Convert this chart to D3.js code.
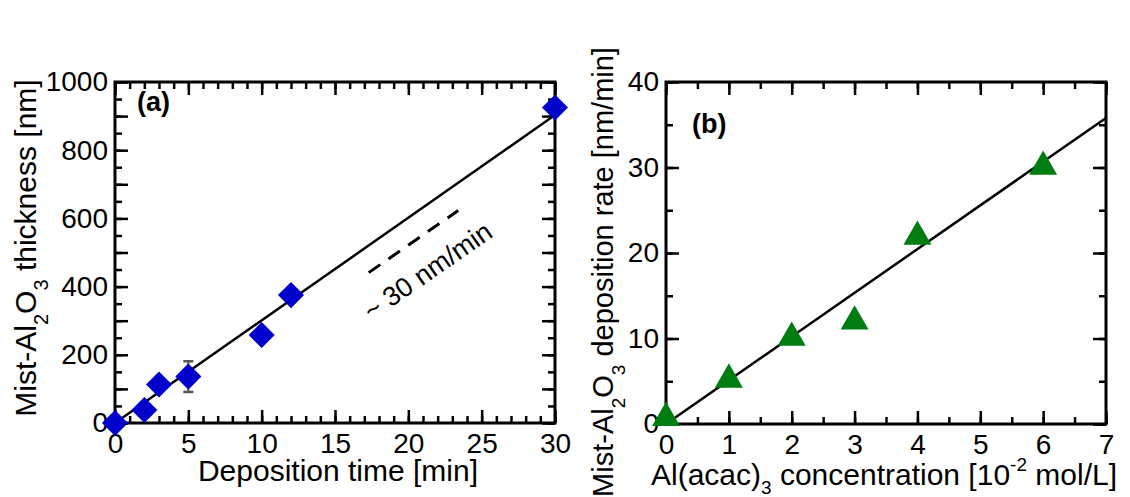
<!DOCTYPE html>
<html>
<head>
<meta charset="utf-8">
<script src="https://cdn.jsdelivr.net/npm/d3@7"></script>
<style>
  html, body { margin: 0; padding: 0; background: #fff; }
  svg { display: block; }
  text { font-family: "Liberation Sans", Arial, Helvetica, sans-serif; fill: #000; }
</style>
</head>
<body>
<svg id="chart" width="1130" height="497"></svg>
<script>
// ---------- Data: panel (a) ----------
const timeA = [0, 2, 3, 5, 10, 12, 30];                 // min
const thickA = [0, 38, 113, 136, 258, 375, 925];         // nm
const errA = [0, 0, 0, 45, 0, 0, 0];                     // nm (error bar half-length)
const fitAX = [0, 30];
const fitAY = [0, 903];
const guideAX = [17.3, 23.4];                            // dashed ~30 nm/min guide
const guideAY = [441, 623];
const guideLabelA = "~ 30 nm/min";
const guideLabelPosA = [17.5, 299];
const xTicksA = [0, 5, 10, 15, 20, 25, 30];
const yTicksA = [0, 200, 400, 600, 800, 1000];

// ---------- Data: panel (b) ----------
const concB = [0, 1, 2, 3, 4, 6];                        // 10^-2 mol/L
const rateB = [0.7, 5.2, 10.1, 12.0, 21.9, 30.1];        // nm/min
const fitBX = [0, 7];
const fitBY = [0, 35.8];
const xTicksB = [0, 1, 2, 3, 4, 5, 6, 7];
const yTicksB = [0, 10, 20, 30, 40];

const svg = d3.select("#chart");

function panel(opt) {
  const g = svg.append("g");
  const x = d3.scaleLinear().domain(opt.xDomain).range([opt.left, opt.right]);
  const y = d3.scaleLinear().domain(opt.yDomain).range([opt.bottom, opt.top]);
  const tickFont = "28px";

  const minorX = d3.range(opt.xDomain[0], opt.xDomain[1] + 1e-9, opt.xMinor);
  const minorY = d3.range(opt.yDomain[0], opt.yDomain[1] + 1e-9, opt.yMinor);
  const majorX = d3.range(opt.xDomain[0], opt.xDomain[1] + 1e-9, opt.xMajor);
  const majorY = d3.range(opt.yDomain[0], opt.yDomain[1] + 1e-9, opt.yMajor);

  function styleAxis(sel) {
    sel.select(".domain").remove();
    sel.selectAll(".tick line").attr("stroke", "#000").attr("stroke-width", 2.5);
    sel.selectAll(".tick text").style("font-size", tickFont).attr("fill", "#000");
  }

  g.append("g").attr("transform", `translate(0,${opt.bottom})`)
    .call(d3.axisBottom(x).tickValues(minorX).tickSizeInner(-7).tickSizeOuter(0).tickFormat(""))
    .call(styleAxis);
  g.append("g").attr("transform", `translate(0,${opt.bottom})`)
    .call(d3.axisBottom(x).tickValues(majorX).tickSizeInner(-13).tickSizeOuter(0).tickPadding(10)
      .tickFormat(d => opt.xLabels.includes(+d.toFixed(6)) ? d3.format("d")(d) : ""))
    .call(styleAxis);
  g.append("g").attr("transform", `translate(0,${opt.top})`)
    .call(d3.axisTop(x).tickValues(minorX).tickSizeInner(-7).tickSizeOuter(0).tickFormat(""))
    .call(styleAxis);
  g.append("g").attr("transform", `translate(0,${opt.top})`)
    .call(d3.axisTop(x).tickValues(majorX).tickSizeInner(-13).tickSizeOuter(0).tickFormat(""))
    .call(styleAxis);
  g.append("g").attr("transform", `translate(${opt.left},0)`)
    .call(d3.axisLeft(y).tickValues(minorY).tickSizeInner(-7).tickSizeOuter(0).tickFormat(""))
    .call(styleAxis);
  g.append("g").attr("transform", `translate(${opt.left},0)`)
    .call(d3.axisLeft(y).tickValues(majorY).tickSizeInner(-13).tickSizeOuter(0).tickPadding(7)
      .tickFormat(d => opt.yLabels.includes(+d.toFixed(6)) ? d3.format("d")(d) : ""))
    .call(styleAxis);
  g.append("g").attr("transform", `translate(${opt.right},0)`)
    .call(d3.axisRight(y).tickValues(minorY).tickSizeInner(-7).tickSizeOuter(0).tickFormat(""))
    .call(styleAxis);
  g.append("g").attr("transform", `translate(${opt.right},0)`)
    .call(d3.axisRight(y).tickValues(majorY).tickSizeInner(-13).tickSizeOuter(0).tickFormat(""))
    .call(styleAxis);

  g.append("rect")
    .attr("x", opt.left).attr("y", opt.top)
    .attr("width", opt.right - opt.left).attr("height", opt.bottom - opt.top)
    .attr("fill", "none").attr("stroke", "#000").attr("stroke-width", 3);

  return { g, x, y };
}

// ---------- Panel (a) ----------
const A = panel({
  left: 115, right: 555, top: 82, bottom: 423,
  xDomain: [0, 30], yDomain: [0, 1000],
  xMinor: 1, xMajor: 5, yMinor: 50, yMajor: 100,
  xLabels: xTicksA, yLabels: yTicksA
});

A.g.append("line")
  .attr("x1", A.x(fitAX[0])).attr("y1", A.y(fitAY[0]))
  .attr("x2", A.x(fitAX[1])).attr("y2", A.y(fitAY[1]))
  .attr("stroke", "#000").attr("stroke-width", 2.5);

A.g.append("line")
  .attr("x1", A.x(guideAX[0])).attr("y1", A.y(guideAY[0]))
  .attr("x2", A.x(guideAX[1])).attr("y2", A.y(guideAY[1]))
  .attr("stroke", "#000").attr("stroke-width", 3)
  .attr("stroke-dasharray", "14,10");

{
  const dx = A.x(guideAX[1]) - A.x(guideAX[0]);
  const dy = A.y(guideAY[1]) - A.y(guideAY[0]);
  const ang = Math.atan2(dy, dx) * 180 / Math.PI;
  const px = A.x(guideLabelPosA[0]), py = A.y(guideLabelPosA[1]);
  A.g.append("text")
    .attr("transform", `translate(${px},${py}) rotate(${ang})`)
    .style("font-size", "27px")
    .text(guideLabelA);
}

const ptsA = timeA.map((t, i) => ({ t, v: thickA[i], e: errA[i] }));
const eb = A.g.selectAll(".err").data(ptsA.filter(d => d.e > 0)).enter().append("g");
eb.append("line")
  .attr("x1", d => A.x(d.t)).attr("x2", d => A.x(d.t))
  .attr("y1", d => A.y(d.v - d.e)).attr("y2", d => A.y(d.v + d.e))
  .attr("stroke", "#555").attr("stroke-width", 2);
[-1, 1].forEach(s => {
  eb.append("line")
    .attr("x1", d => A.x(d.t) - 5).attr("x2", d => A.x(d.t) + 5)
    .attr("y1", d => A.y(d.v + s * d.e)).attr("y2", d => A.y(d.v + s * d.e))
    .attr("stroke", "#555").attr("stroke-width", 2.5);
});

A.g.selectAll(".dia").data(ptsA).enter().append("path")
  .attr("d", d3.symbol().type(d3.symbolSquare).size(340))
  .attr("transform", d => `translate(${A.x(d.t)},${A.y(d.v)}) rotate(45)`)
  .attr("fill", "#0000cc");

svg.append("text").attr("x", 137).attr("y", 111)
  .style("font-size", "27px").style("font-weight", "bold").text("(a)");

svg.append("text").attr("x", 338).attr("y", 481)
  .attr("text-anchor", "middle").style("font-size", "30px")
  .text("Deposition time [min]");

{
  const t = svg.append("text")
    .attr("transform", "translate(36,248) rotate(-90)")
    .attr("text-anchor", "middle").style("font-size", "30px");
  t.append("tspan").text("Mist-Al");
  t.append("tspan").attr("dy", 12).style("font-size", "20px").text("2");
  t.append("tspan").attr("dy", -12).text("O");
  t.append("tspan").attr("dy", 12).style("font-size", "20px").text("3");
  t.append("tspan").attr("dy", -12).text(" thickness [nm]");
}

// ---------- Panel (b) ----------
const B = panel({
  left: 666, right: 1106, top: 82, bottom: 424,
  xDomain: [0, 7], yDomain: [0, 40],
  xMinor: 0.5, xMajor: 1, yMinor: 5, yMajor: 10,
  xLabels: xTicksB, yLabels: yTicksB
});

B.g.append("line")
  .attr("x1", B.x(fitBX[0])).attr("y1", B.y(fitBY[0]))
  .attr("x2", B.x(fitBX[1])).attr("y2", B.y(fitBY[1]))
  .attr("stroke", "#000").attr("stroke-width", 2.5);

const ptsB = concB.map((c, i) => ({ c, v: rateB[i] }));
B.g.selectAll(".tri").data(ptsB).enter().append("path")
  .attr("d", d3.symbol().type(d3.symbolTriangle).size(340))
  .attr("transform", d => `translate(${B.x(d.c)},${B.y(d.v)})`)
  .attr("fill", "#007d10");

svg.append("text").attr("x", 692).attr("y", 133)
  .style("font-size", "27px").style("font-weight", "bold").text("(b)");

{
  const t = svg.append("text").attr("x", 884).attr("y", 485)
    .attr("text-anchor", "middle").style("font-size", "30px");
  t.append("tspan").text("Al(acac)");
  t.append("tspan").attr("dy", 9).style("font-size", "19px").text("3");
  t.append("tspan").attr("dy", -9).text(" concentration [10");
  t.append("tspan").attr("dy", -14).style("font-size", "19px").text("-2");
  t.append("tspan").attr("dy", 14).text(" mol/L]");
}

{
  const t = svg.append("text")
    .attr("transform", "translate(613,272) rotate(-90)")
    .attr("text-anchor", "middle").style("font-size", "29px");
  t.append("tspan").text("Mist-Al");
  t.append("tspan").attr("dy", 12).style("font-size", "19px").text("2");
  t.append("tspan").attr("dy", -12).text("O");
  t.append("tspan").attr("dy", 12).style("font-size", "19px").text("3");
  t.append("tspan").attr("dy", -12).text(" deposition rate [nm/min]");
}
</script>
</body>
</html>
